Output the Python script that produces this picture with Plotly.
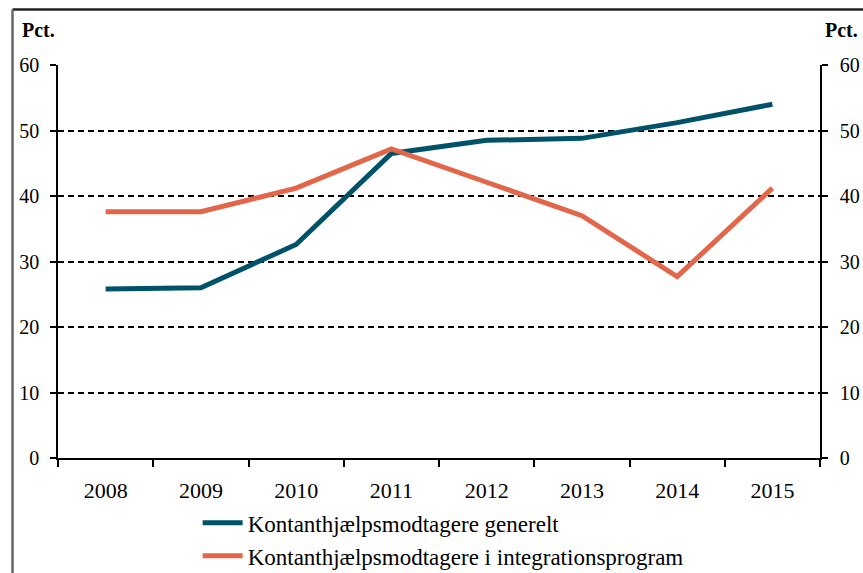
import plotly.graph_objects as go

years = ["2008", "2009", "2010", "2011", "2012", "2013", "2014", "2015"]
generelt = [25.8, 26.0, 32.6, 46.5, 48.5, 48.8, 51.2, 54.0]
integration = [37.6, 37.6, 41.2, 47.2, 42.1, 37.0, 27.7, 41.2]
name_generelt = "Kontanthjælpsmodtagere generelt"
name_integration = "Kontanthjælpsmodtagere i integrationsprogram"
y_ticks = [0, 10, 20, 30, 40, 50, 60]

BLUE = "#005268"
ORANGE = "#E3664A"
FONT = "Liberation Serif"

fig = go.Figure()
fig.add_trace(go.Scatter(x=years, y=generelt, mode="lines", name=name_generelt,
                         line=dict(color=BLUE, width=5)))
fig.add_trace(go.Scatter(x=years, y=integration, mode="lines", name=name_integration,
                         line=dict(color=ORANGE, width=5)))
# invisible trace so the right axis is drawn
fig.add_trace(go.Scatter(x=years, y=generelt, yaxis="y2", mode="lines",
                         line=dict(width=0), showlegend=False, hoverinfo="skip",
                         opacity=0))

fig.update_layout(
    width=863, height=573,
    margin=dict(l=58, r=43, t=65, b=115, autoexpand=False),
    paper_bgcolor="white", plot_bgcolor="white",
    font=dict(family=FONT, color="black", size=20),
    showlegend=True,
    legend=dict(xref="container", yref="container", x=0.229, xanchor="left",
                y=0.125, yanchor="top",
                font=dict(family=FONT, size=23), tracegroupgap=0,
                bgcolor="rgba(0,0,0,0)", itemwidth=40),
    xaxis=dict(type="category", tickson="boundaries", ticks="outside", ticklen=7,
               tickcolor="black", tickwidth=1.5, showline=True, linecolor="black",
               linewidth=1.5, showgrid=False, zeroline=False, automargin=False,
               tickfont=dict(family=FONT, size=22), range=[-0.5, 7.5],
               ticklabelstandoff=12),
    yaxis=dict(range=[0, 60], tickvals=y_ticks, ticks="outside", ticklen=6,
               tickcolor="black", tickwidth=1.5, showline=True, linecolor="black",
               linewidth=1.5, showgrid=True, gridcolor="black", gridwidth=1.5,
               griddash="6px,4px", zeroline=False, automargin=False,
               tickfont=dict(family=FONT, size=20), ticklabelstandoff=7),
    yaxis2=dict(range=[0, 60], tickvals=y_ticks, overlaying="y", side="right",
                ticks="outside", ticklen=6, tickcolor="black", tickwidth=1.5,
                showline=True, linecolor="black", linewidth=1.5, showgrid=False,
                zeroline=False, automargin=False,
                tickfont=dict(family=FONT, size=20), ticklabelstandoff=8),
)

fig.add_annotation(text="<b>Pct.</b>", xref="paper", yref="paper", x=-0.05, y=1.089,
                   xanchor="left", yanchor="middle", showarrow=False,
                   font=dict(family=FONT, size=20))
fig.add_annotation(text="<b>Pct.</b>", xref="paper", yref="paper", x=1.0525, y=1.089,
                   xanchor="right", yanchor="middle", showarrow=False,
                   font=dict(family=FONT, size=20))

# frame lines (top and left border of the figure box)
fig.add_shape(type="line", xref="paper", yref="paper", x0=-0.0597, x1=1.06,
              y0=1.141, y1=1.141, line=dict(color="#222222", width=2.5))
fig.add_shape(type="line", xref="paper", yref="paper", x0=-0.0597, x1=-0.0597,
              y0=1.141, y1=-0.3, line=dict(color="#666666", width=2.5))

fig.write_html("out.html",
               config={"displayModeBar": False},
               post_script="document.body.style.margin='0px';"
                           "document.body.style.overflow='hidden';")
